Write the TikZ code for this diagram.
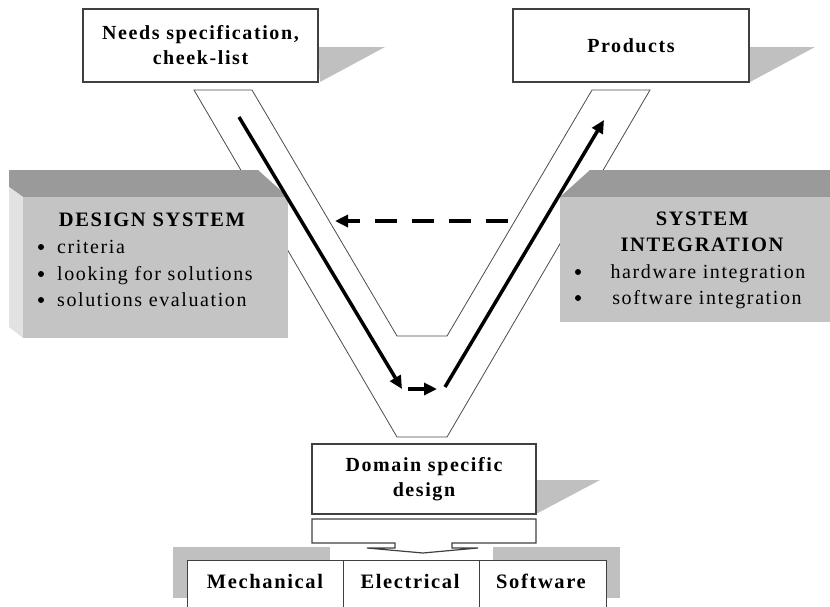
\documentclass[tikz,border=0pt]{standalone}
\usepackage{fontspec}
\setmainfont{Liberation Serif}[LetterSpace=8]
\usetikzlibrary{arrows.meta}
\definecolor{frontgray}{HTML}{C4C4C4}
\definecolor{topgray}{HTML}{9A9A9A}
\definecolor{sidegray}{HTML}{E2E2E2}
\definecolor{shadowgray}{HTML}{C0C0C0}
\begin{document}
\begin{tikzpicture}[x=1pt,y=-1pt,
  wbox/.style={draw=black!75, line width=1.3pt, fill=white, inner sep=0pt, align=center,
    font=\fontsize{20}{25}\selectfont\bfseries},
  vline/.style={draw=black!70, line width=0.8pt, fill=white},
  bigarrow/.style={line width=3.5pt, -{Triangle[length=13pt,width=12pt]}},
  dasharrow/.style={line width=3.5pt, dash pattern=on 22pt off 15pt, -{Triangle[length=13pt,width=12pt]}},
  btitle/.style={anchor=base, inner sep=0pt, font=\fontsize{20.5}{25}\selectfont\bfseries},
  btext/.style={anchor=base west, inner sep=0pt, font=\fontsize{20}{25}\selectfont},
  ctext/.style={anchor=base, inner sep=0pt, font=\fontsize{20}{25}\selectfont},
  bul/.style={circle, fill=black, inner sep=0pt, minimum size=6pt},
  front/.style={fill=frontgray, inner sep=0pt, anchor=north west}
]
\useasboundingbox (0,0) rectangle (830,606);
\clip (0,0) rectangle (830,606);

% V shape
\path[vline] (194,90) -- (252,90) -- (397,336) -- (447,336) -- (592,90) -- (650,90)
  -- (447,437) -- (397,437) -- cycle;

% top boxes with shadows
\fill[shadowgray] (318,47) -- (385,47) -- (320,82) -- cycle;
\node[wbox, minimum width=235pt, minimum height=73pt] (needs) at (200.5,45.5)
  {Needs specification,\\cheek-list};
\fill[shadowgray] (748,47) -- (815,47) -- (750,82) -- cycle;
\node[wbox, minimum width=236pt, minimum height=73pt] (products) at (631,45.5) {Products};

% design system 3D box
\fill[topgray] (9,170) -- (258,170) -- (288,197) -- (23,197) -- (9,187) -- cycle;
\fill[sidegray] (9,187) -- (23,197) -- (23,338) -- (9,327) -- cycle;
\node[front, minimum width=265pt, minimum height=141pt] (design) at (23,197) {};
\node[btitle] (dtitle) at (152,226) {DESIGN SYSTEM};
\node[bul] (db1) at (41,247) {};
\node[bul] (db2) at (41,274) {};
\node[bul] (db3) at (41,300) {};
\node[btext] (dt1) at (57,253) {criteria};
\node[btext] (dt2) at (57,280) {looking for solutions};
\node[btext] (dt3) at (57,306) {solutions evaluation};

% system integration 3D box
\fill[topgray] (590,170) -- (830,170) -- (830,197) -- (560,197) -- cycle;
\node[front, minimum width=270pt, minimum height=125pt] (sysint) at (560,197) {};
\node[btitle] (stitle1) at (702,225) {SYSTEM};
\node[btitle] (stitle2) at (702,251) {INTEGRATION};
\node[bul] (sb1) at (578,272) {};
\node[bul] (sb2) at (578,298) {};
\node[ctext] (st1) at (708,278) {hardware integration};
\node[ctext] (st2) at (707,304) {software integration};

% domain specific design
\fill[shadowgray] (536,480) -- (600,480) -- (536,514) -- cycle;
\node[wbox, minimum width=224pt, minimum height=70pt] (domain) at (424,479)
  {Domain specific\\design};
\draw[draw=black!75, line width=1.2pt, fill=white] (312,519) -- (536,519) -- (536,543)
  -- (452,543) -- (452,548) -- (478,548) -- (423,553) -- (367,548) -- (395,548)
  -- (395,543) -- (312,543) -- cycle;

% bottom row
\fill[shadowgray] (173,547) rectangle (330,598);
\fill[shadowgray] (493,547) rectangle (620,598);
\node[wbox, anchor=north west, minimum width=156pt, minimum height=70pt] (mech) at (187,560) {};
\node[wbox, anchor=north west, minimum width=136pt, minimum height=70pt] (elec) at (343,560) {};
\node[wbox, anchor=north west, minimum width=127pt, minimum height=70pt] (soft) at (479,560) {};
\node[btitle] (mecht) at (265,588) {Mechanical};
\node[btitle] (elect) at (410,588) {Electrical};
\node[btitle] (softt) at (541,588) {Software};

% arrows
\coordinate (d1) at (239,117); \coordinate (d2) at (402,389);
\coordinate (m1) at (408,389); \coordinate (m2) at (437,389);
\coordinate (u1) at (445,387); \coordinate (u2) at (604,120);
\coordinate (h1) at (508,221); \coordinate (h2) at (335,221);
\draw[bigarrow] (d1) -- (d2);
\draw[bigarrow] (m1) -- (m2);
\draw[bigarrow] (u1) -- (u2);
\draw[dasharrow] (h1) -- (h2);
\end{tikzpicture}
\end{document}
